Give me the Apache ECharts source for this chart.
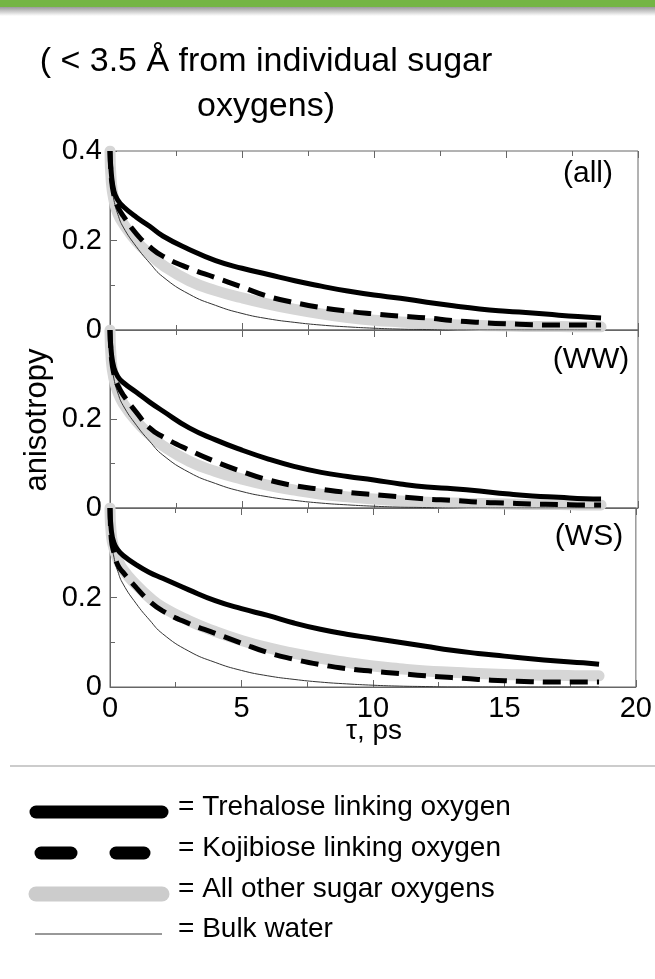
<!DOCTYPE html>
<html><head><meta charset="utf-8">
<script src="https://cdn.jsdelivr.net/npm/echarts@6/dist/echarts.min.js"></script>
<style>html,body{margin:0;padding:0;background:#fff}#c{width:655px;height:979px}</style>
</head><body><div id="c"></div>
<script>
const tau = [0, 0.05, 0.15, 0.3, 0.5, 1, 1.5, 2, 3, 4, 5, 6, 7, 8, 9, 10, 11, 12, 13, 14, 15, 16, 17, 18, 18.6];

const panelLabels = ['(all)', '(WW)', '(WS)'];
const xTicks = [0, 5, 10, 15, 20];
const yTicks = [0, 0.2, 0.4];

// (all)
const trehaloseAll = [0.40,0.35,0.31,0.29,0.276,0.252,0.232,0.210,0.180,0.155,0.138,0.124,0.110,0.098,0.087,0.078,0.071,0.062,0.054,0.047,0.042,0.038,0.033,0.029,0.027];
const kojibioseAll = [0.40,0.34,0.30,0.275,0.255,0.215,0.186,0.165,0.138,0.117,0.096,0.075,0.061,0.050,0.042,0.036,0.031,0.027,0.021,0.017,0.014,0.012,0.011,0.011,0.011];
const otherAll     = [0.40,0.33,0.29,0.26,0.238,0.198,0.170,0.145,0.110,0.088,0.072,0.058,0.046,0.036,0.028,0.022,0.018,0.014,0.012,0.010,0.009,0.008,0.008,0.007,0.007];
// (WW)
const trehaloseWW = [0.40,0.35,0.315,0.295,0.282,0.260,0.238,0.218,0.180,0.153,0.130,0.110,0.093,0.080,0.071,0.063,0.054,0.047,0.043,0.038,0.032,0.027,0.024,0.021,0.020];
const kojibioseWW = [0.40,0.34,0.30,0.275,0.254,0.215,0.180,0.160,0.130,0.104,0.082,0.063,0.050,0.042,0.035,0.030,0.025,0.020,0.017,0.013,0.011,0.009,0.008,0.007,0.007];
const otherWW     = [0.40,0.33,0.29,0.26,0.235,0.195,0.165,0.140,0.105,0.082,0.065,0.051,0.040,0.031,0.025,0.020,0.016,0.013,0.011,0.010,0.009,0.008,0.008,0.007,0.007];
// (WS)
const trehaloseWS = [0.40,0.35,0.322,0.306,0.294,0.273,0.256,0.243,0.217,0.193,0.175,0.160,0.143,0.129,0.118,0.109,0.100,0.091,0.082,0.075,0.069,0.063,0.058,0.054,0.051];
const kojibioseWS = [0.40,0.33,0.30,0.272,0.256,0.222,0.192,0.170,0.142,0.120,0.098,0.077,0.062,0.050,0.041,0.035,0.030,0.025,0.021,0.017,0.014,0.012,0.011,0.011,0.011];
const otherWS     = [0.40,0.34,0.31,0.285,0.262,0.228,0.200,0.178,0.148,0.124,0.104,0.088,0.075,0.064,0.055,0.047,0.041,0.036,0.033,0.030,0.028,0.027,0.026,0.025,0.025];
// bulk water (same reference curve in each panel)
const bulkWater = [0.40,0.33,0.29,0.258,0.230,0.186,0.150,0.119,0.080,0.055,0.037,0.025,0.017,0.011,0.007,0.004,0.002,0.001,0,0,0,0,0,0,0];

const panels = [
  {treh: trehaloseAll, koji: kojibioseAll, other: otherAll, bulk: bulkWater},
  {treh: trehaloseWW,  koji: kojibioseWW,  other: otherWW,  bulk: bulkWater},
  {treh: trehaloseWS,  koji: kojibioseWS,  other: otherWS,  bulk: bulkWater}
];

const pairs = arr => tau.map((t, i) => [t, arr[i]]);

const gridTops = [151, 330, 508];
const gridHeights = [179, 178, 179];
const FONT = '"Liberation Sans", Arial, Helvetica, sans-serif';

const grids = [], xAxes = [], yAxes = [], series = [];
for (let i = 0; i < 3; i++) {
  grids.push({left: 110, width: 528, top: gridTops[i], height: gridHeights[i],
    show: true, borderColor: '#666', borderWidth: 1, backgroundColor: 'transparent'});
  xAxes.push({type: 'value', gridIndex: i, min: xTicks[0], max: xTicks[xTicks.length-1], interval: 5,
    position: 'bottom',
    axisLine: {show: true, lineStyle: {color: '#666', width: 1}},
    axisTick: {show: true, inside: true, length: 7, lineStyle: {color: '#666'}},
    minorTick: {show: true, splitNumber: 2, length: 5, lineStyle: {color: '#666'}},
    splitLine: {show: false},
    axisLabel: {show: i === 2, color: '#000', fontSize: 29, fontFamily: FONT, margin: 7}});
  yAxes.push({type: 'value', gridIndex: i, min: 0, max: 0.4, interval: 0.2,
    axisLine: {show: true, lineStyle: {color: '#666', width: 1}},
    axisTick: {show: true, inside: true, length: 7, lineStyle: {color: '#666'}},
    minorTick: {show: true, splitNumber: 2, length: 5, lineStyle: {color: '#666'}},
    splitLine: {show: false},
    axisLabel: {show: true, color: '#000', fontSize: 29, fontFamily: FONT, margin: 8,
      formatter: v => {
        if (Math.abs(v) < 1e-9) return '0';
        if (i > 0 && Math.abs(v - 0.4) < 1e-9) return '';
        return v.toFixed(1);
      }}});
  const p = panels[i];
  series.push({type: 'line', xAxisIndex: i, yAxisIndex: i, data: pairs(p.other), showSymbol: false,
    smooth: 0.5, z: 1,
    lineStyle: {color: '#d6d6d6', width: 11, cap: 'round'}});
  series.push({type: 'line', xAxisIndex: i, yAxisIndex: i, data: pairs(p.bulk), showSymbol: false,
    smooth: 0.5, z: 2,
    lineStyle: {color: '#333', width: 1}});
  series.push({type: 'line', xAxisIndex: i, yAxisIndex: i, data: pairs(p.koji), showSymbol: false,
    smooth: 0.5, z: 3,
    lineStyle: {color: '#000', width: 5, type: [18, 9]}});
  series.push({type: 'line', xAxisIndex: i, yAxisIndex: i, data: pairs(p.treh), showSymbol: false,
    smooth: 0.5, z: 4,
    lineStyle: {color: '#000', width: 5}});
}
for (let i = 0; i < 3; i++) {
  xAxes.push({type: 'value', gridIndex: i, min: xTicks[0], max: xTicks[xTicks.length-1], interval: 5,
    position: 'top',
    axisLine: {show: false},
    axisTick: {show: true, inside: true, length: 7, lineStyle: {color: '#666'}},
    minorTick: {show: true, splitNumber: 2, length: 5, lineStyle: {color: '#666'}},
    splitLine: {show: false}, axisLabel: {show: false}});
}

const txt = (text, x, y, size, opts) => Object.assign({type: 'text', x, y, z: 100,
  style: Object.assign({text, fill: '#000', font: size + 'px ' + FONT, textAlign: 'center', textVerticalAlign: 'middle'}, opts || {})});

const legendNames = ['= Trehalose linking oxygen', '= Kojibiose linking oxygen', '= All other sugar oxygens', '= Bulk water'];
const legendY = [807, 848, 889, 929];

const graphic = [
  {type: 'rect', shape: {x: 0, y: 0, width: 655, height: 7}, style: {fill: '#74b544'}},
  {type: 'rect', shape: {x: 0, y: 7, width: 655, height: 9}, style: {fill: new echarts.graphic.LinearGradient(0, 0, 0, 1, [{offset: 0, color: '#9a9a9a'}, {offset: 1, color: '#ffffff'}])}},
  txt('( < 3.5 Å from individual sugar', 266, 62, 34),
  txt('oxygens)', 266, 107, 34),
  txt(panelLabels[0], 588, 174, 30),
  txt(panelLabels[1], 591, 360, 30),
  txt(panelLabels[2], 589, 537, 30),
  txt('τ, ps', 374, 731, 28),
  Object.assign(txt('anisotropy', 37, 420, 31), {rotation: Math.PI / 2}),
  {type: 'line', shape: {x1: 10, y1: 766, x2: 655, y2: 766}, style: {stroke: '#bbb', lineWidth: 1.5}},
  {type: 'line', shape: {x1: 36, y1: 812, x2: 162, y2: 812}, style: {stroke: '#000', lineWidth: 13, lineCap: 'round'}},
  {type: 'line', shape: {x1: 41, y1: 853, x2: 71, y2: 853}, style: {stroke: '#000', lineWidth: 13, lineCap: 'round'}},
  {type: 'line', shape: {x1: 116, y1: 853, x2: 144, y2: 853}, style: {stroke: '#000', lineWidth: 13, lineCap: 'round'}},
  {type: 'line', shape: {x1: 36, y1: 894, x2: 162, y2: 894}, style: {stroke: '#cccccc', lineWidth: 15, lineCap: 'round'}},
  {type: 'line', shape: {x1: 35, y1: 934, x2: 162, y2: 934}, style: {stroke: '#333', lineWidth: 1}}
];
legendNames.forEach((n, k) => graphic.push({type: 'text', x: 178, y: legendY[k], z: 100,
  style: {text: n, fill: '#000', font: '28px ' + FONT, textAlign: 'left', textVerticalAlign: 'middle'}}));

const chart = echarts.init(document.getElementById('c'), null, {renderer: 'canvas'});
chart.setOption({
  animation: false,
  backgroundColor: '#fff',
  grid: grids, xAxis: xAxes, yAxis: yAxes, series: series, graphic: graphic
});
</script></body></html>
